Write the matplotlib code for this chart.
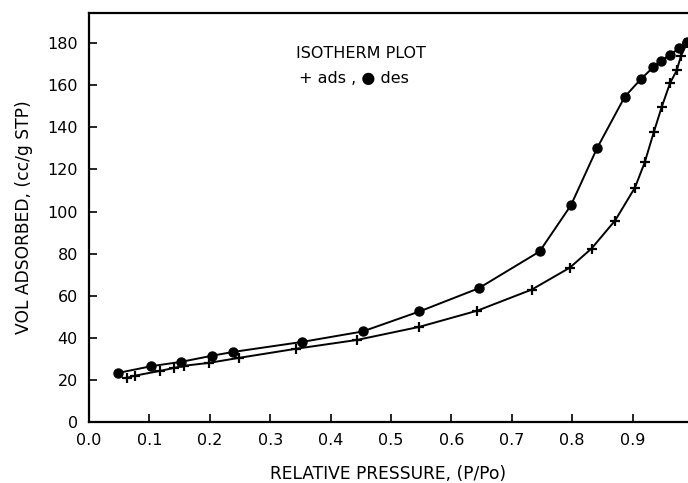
# Isotherm plot: adsorption (+) and desorption (filled circles) branches.
import matplotlib
matplotlib.use('Agg')
import matplotlib.pyplot as plt

# adsorption branch
adsP = [0.063, 0.076, 0.118, 0.141, 0.157, 0.199, 0.249, 0.343, 0.444, 0.547,
        0.643, 0.733, 0.796, 0.832, 0.871, 0.904, 0.920, 0.935, 0.948, 0.962,
        0.973, 0.980, 0.990]
adsV = [21.0, 22.0, 24.3, 25.7, 26.7, 28.1, 30.5, 34.8, 39.0, 45.2,
        52.9, 62.9, 73.3, 82.4, 95.7, 111.4, 123.3, 137.6, 149.5, 161.0,
        167.0, 173.8, 180.0]

# desorption branch
desP = [0.048, 0.103, 0.153, 0.204, 0.239, 0.352, 0.453, 0.547, 0.645, 0.746,
        0.798, 0.841, 0.887, 0.914, 0.934, 0.947, 0.962, 0.977, 0.990]
desV = [23.3, 26.5, 28.6, 31.5, 33.3, 38.0, 43.0, 52.5, 63.5, 81.0,
        103.0, 130.0, 154.5, 163.0, 168.5, 171.5, 174.5, 177.5, 180.5]

xticks = [0.0, 0.1, 0.2, 0.3, 0.4, 0.5, 0.6, 0.7, 0.8, 0.9]
yticks = [0, 20, 40, 60, 80, 100, 120, 140, 160, 180]

plt.rcParams['font.family'] = ['DejaVu Sans']

fig = plt.figure(figsize=(6.88, 4.83), dpi=100)
ax = fig.add_axes([89 / 688, 61 / 483, 599 / 688, 409 / 483])

ax.plot(desP, desV, color='black', lw=1.4, marker='o', ms=6.5)
ax.plot(adsP, adsV, color='black', lw=1.4, marker='+', ms=7, mew=1.6)

ax.set_xlim(0, 599 / 604)
ax.set_ylim(0, 194.3)
ax.set_xticks(xticks)
ax.set_xticklabels(['%.1f' % v for v in xticks])
ax.set_yticks(yticks)

ax.spines['right'].set_visible(False)
for s in ['left', 'bottom', 'top']:
    ax.spines[s].set_linewidth(1.6)

ax.tick_params(direction='in', length=6, width=1.2, labelsize=11.5, pad=8)

ax.set_xlabel('RELATIVE PRESSURE, (P/Po)', fontsize=12.3, labelpad=12)
ax.set_ylabel('VOL ADSORBED, (cc/g STP)', fontsize=12.3, labelpad=10)

ax.text(0.346, 0.89, 'ISOTHERM PLOT', transform=ax.transAxes, fontsize=11.5)
ax.text(0.35, 0.83, '+ ads , \u25cf des', transform=ax.transAxes, fontsize=11.5)

fig.savefig('out.png', dpi=100)
